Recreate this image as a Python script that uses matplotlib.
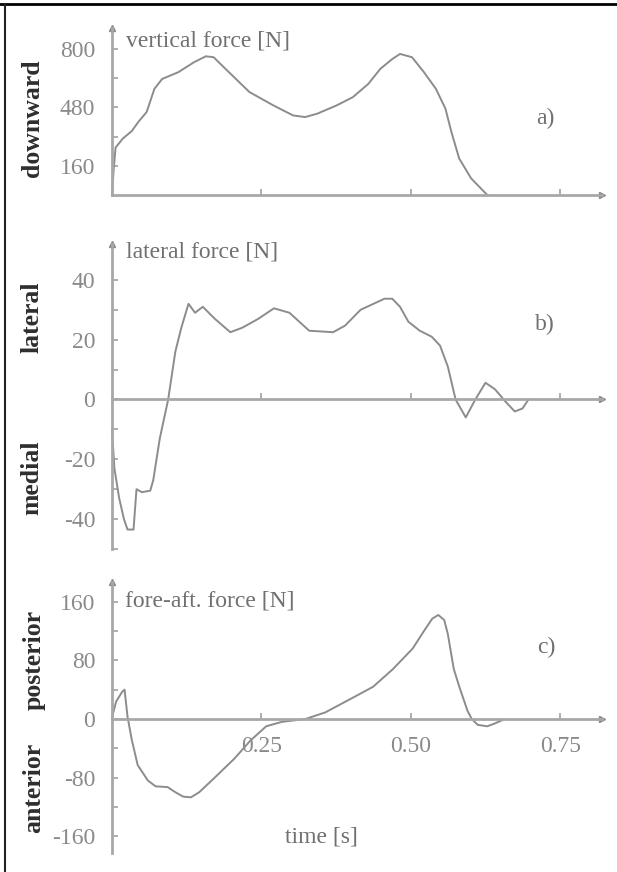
import numpy as np
import matplotlib
matplotlib.use('Agg')
import matplotlib.pyplot as plt
from matplotlib.lines import Line2D

# panel a) vertical force [N]
t_a = [0, 0.003, 0.006, 0.018, 0.033, 0.044, 0.058, 0.071, 0.084, 0.111, 0.137,
       0.157, 0.170, 0.19, 0.23, 0.27, 0.303, 0.323, 0.343, 0.376, 0.403, 0.429,
       0.449, 0.469, 0.482, 0.502, 0.522, 0.542, 0.558, 0.568, 0.581, 0.601, 0.628]
f_a = [0, 150, 260, 309, 350, 400, 455, 582, 636, 673, 727,
       760, 755, 691, 564, 491, 436, 427, 445, 491, 536, 609,
       691, 745, 773, 755, 673, 582, 473, 345, 200, 91, 0]

# panel b) lateral force [N]
t_b = [0, 0.004, 0.012, 0.02, 0.026, 0.036, 0.041, 0.05, 0.064, 0.069, 0.08, 0.094,
       0.106, 0.116, 0.128, 0.139, 0.152, 0.172, 0.198, 0.218, 0.245, 0.271, 0.297,
       0.33, 0.37, 0.39, 0.416, 0.456, 0.469, 0.482, 0.496, 0.515, 0.535, 0.549,
       0.562, 0.575, 0.592, 0.608, 0.625, 0.641, 0.658, 0.674, 0.687, 0.697]
f_b = [-10, -23, -33, -40, -43.5, -43.5, -30, -31, -30.5, -27, -13, 0,
       16, 24, 32, 29, 31, 27, 22.5, 24, 27, 30.5, 29,
       23, 22.5, 24.7, 30, 33.7, 33.7, 31, 26, 23, 21, 18,
       11, 0, -6, 0, 5.6, 3.4, -0.6, -4, -3, 0]

# panel c) fore-aft force [N]
t_c = [0, 0.007, 0.017, 0.021, 0.026, 0.033, 0.043, 0.06, 0.073, 0.093, 0.106,
       0.119, 0.132, 0.146, 0.172, 0.205, 0.231, 0.258, 0.284, 0.324, 0.357,
       0.403, 0.437, 0.47, 0.503, 0.522, 0.536, 0.546, 0.556, 0.562, 0.572,
       0.582, 0.595, 0.602, 0.612, 0.628, 0.641, 0.655]
f_c = [2, 24, 37, 40, 3, -28, -63, -84, -92, -93, -100,
       -106, -107, -100, -80, -54, -30, -10, -4, 0, 9,
       29, 44, 68, 96, 120, 137, 142, 135, 116, 68,
       42, 11, 0, -8, -10, -6, -1]

yticks_a = [160, 320, 480, 640, 800]
ylabels_a = ['160', '', '480', '', '800']
yticks_b = [-50, -40, -30, -20, -10, 0, 10, 20, 30, 40]
ylabels_b = ['', '-40', '', '-20', '', '0', '', '20', '', '40']
yticks_c = [-160, -120, -80, -40, 0, 40, 80, 120, 160]
ylabels_c = ['-160', '', '-80', '', '0', '', '80', '', '160']
xticks = [0.25, 0.50, 0.75]
xlabels = ['0.25', '0.50', '0.75']

W, H = 617, 872
plt.rcParams['font.family'] = ['Liberation Serif', 'DejaVu Serif']
AXC = '#a8a8a8'
LNC = '#8c8c8c'
TXC = '#8a8a8a'
LBC = '#2e2e2e'

fig = plt.figure(figsize=(W / 100, H / 100), dpi=100)


def px_axes(left, top, right, bottom):
    return fig.add_axes([left / W, 1 - bottom / H, (right - left) / W, (bottom - top) / H])


def ftext(x, y, s, **kw):
    fig.text(x / W, 1 - y / H, s, **kw)


def style(ax, ylim, yt, yl, show_x):
    ax.set_xlim(0, 0.82)
    ax.set_ylim(*ylim)
    for s in ['top', 'right']:
        ax.spines[s].set_visible(False)
    ax.spines['bottom'].set_position(('data', 0))
    for s in ['left', 'bottom']:
        ax.spines[s].set_color(AXC)
        ax.spines[s].set_linewidth(2.0)
    ax.set_yticks(yt)
    ax.set_yticklabels(yl)
    ax.set_xticks(xticks)
    ax.set_xticklabels(xlabels if show_x else [''] * 3)
    ax.tick_params(axis='both', direction='in', length=4, width=1.3, color=AXC,
                   labelcolor=TXC, labelsize=17)
    ax.tick_params(axis='y', pad=12)
    ax.tick_params(axis='x', pad=12)
    ax.patch.set_alpha(0)
    # arrow heads
    ax.plot([0], [1], marker='^', ms=5, color='#888888', transform=ax.transAxes, clip_on=False)
    ax.plot([1], [0], marker='>', ms=5, color='#888888',
            transform=ax.get_yaxis_transform(), clip_on=False)


ax_a = px_axes(112, 28, 602, 195)
ax_a.plot(t_a, f_a, color=LNC, lw=1.4, clip_on=False)
style(ax_a, (0, 915), yticks_a, ylabels_a, False)

ax_b = px_axes(112, 244, 602, 549)
ax_b.plot(t_b, f_b, color=LNC, lw=1.4, clip_on=False)
style(ax_b, (-49, 52), yticks_b, ylabels_b, False)

ax_c = px_axes(112, 582, 602, 853)
ax_c.plot(t_c, f_c, color=LNC, lw=1.4, clip_on=False)
style(ax_c, (-183, 187), yticks_c, ylabels_c, True)

# titles
tkw = dict(color='#707070', fontsize=17, ha='left', va='center')
ftext(126, 41, 'vertical force [N]', **tkw)
ftext(126, 252, 'lateral force [N]', **tkw)
ftext(125, 601, 'fore-aft. force [N]', **tkw)

# panel letters
pkw = dict(color='#707070', fontsize=17, ha='center', va='center')
ftext(545, 118, 'a)', **pkw)
ftext(545, 324, 'b)', **pkw)
ftext(546, 647, 'c)', **pkw)

# side labels
lkw = dict(color=LBC, fontsize=18.5, fontweight='bold', rotation=90, ha='center', va='center')
ftext(32, 118, 'downward', **lkw)
ftext(32, 317, 'lateral', **lkw)
ftext(32, 478, 'medial', **lkw)
ftext(34, 660, 'posterior', **lkw)
ftext(34, 788, 'anterior', **lkw)

ftext(321, 837, 'time [s]', color='#707070', fontsize=17, ha='center', va='center')

# frame lines
fig.add_artist(Line2D([0, 1], [1 - 4 / H, 1 - 4 / H], color='black', lw=2, transform=fig.transFigure))
fig.add_artist(Line2D([5 / W, 5 / W], [0, 1 - 4 / H], color='#222222', lw=1.5, transform=fig.transFigure))

fig.savefig('out.png', dpi=100)
